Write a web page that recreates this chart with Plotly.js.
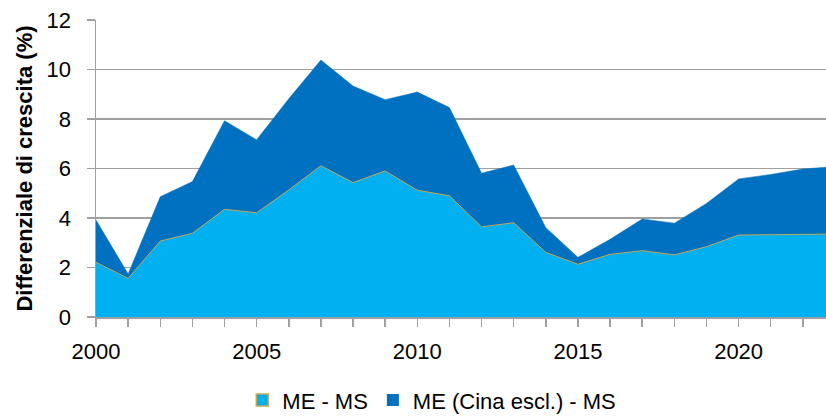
<!DOCTYPE html>
<html>
<head>
<meta charset="utf-8">
<script src="https://cdn.plot.ly/plotly-3.0.1.min.js"></script>
<style>html,body{margin:0;padding:0;background:#fff;}#chart{width:826px;height:419px;}</style>
</head>
<body>
<div id="chart"></div>
<script>
const years = [2000,2001,2002,2003,2004,2005,2006,2007,2008,2009,2010,2011,2012,2013,2014,2015,2016,2017,2018,2019,2020,2021,2022,2023];
const meMs = [2.21,1.56,3.07,3.38,4.35,4.21,5.13,6.11,5.43,5.90,5.12,4.90,3.64,3.81,2.61,2.13,2.53,2.68,2.51,2.84,3.31,3.31,3.34,3.35];
const meExChinaMs = [3.92,1.74,4.86,5.47,7.93,7.16,8.82,10.38,9.33,8.78,9.09,8.46,5.81,6.14,3.61,2.41,3.14,3.96,3.79,4.59,5.58,5.76,5.98,6.08];
const yTicks = [0,2,4,6,8,10,12];
const xTickVals = [2000,2005,2010,2015,2020];
const seriesNames = ['ME - MS', 'ME (Cina escl.) - MS'];

const font = "Liberation Sans, Arial, sans-serif";
const lightBlue = '#00b0f0', darkBlue = '#0070c0', gold = '#c9a74f';

const traces = [
  {
    x: years, y: meExChinaMs, name: seriesNames[1], showlegend: false,
    type: 'scatter', mode: 'lines', fill: 'tozeroy',
    fillcolor: darkBlue, line: {color: darkBlue, width: 0.5}
  },
  {
    x: years, y: meMs, name: seriesNames[0], showlegend: false,
    type: 'scatter', mode: 'lines', fill: 'tozeroy',
    fillcolor: lightBlue, line: {color: gold, width: 1}
  },
  // legend entries (square markers like the original)
  {
    x: [null], y: [null], name: seriesNames[0], type: 'scatter', mode: 'markers',
    marker: {symbol: 'square', size: 12, color: lightBlue, line: {color: gold, width: 1.5}}
  },
  {
    x: [null], y: [null], name: seriesNames[1], type: 'scatter', mode: 'markers',
    marker: {symbol: 'square', size: 12, color: darkBlue, line: {color: darkBlue, width: 0}}
  }
];

const layout = {
  width: 826, height: 419,
  margin: {l: 96, r: 0, t: 20, b: 102, autoexpand: false},
  paper_bgcolor: '#ffffff', plot_bgcolor: '#ffffff',
  font: {family: font, size: 22, color: '#000'},
  showlegend: true,
  legend: {
    orientation: 'h', xref: 'paper', x: 0.46, xanchor: 'center',
    yref: 'container', y: 0.045, yanchor: 'middle',
    font: {family: font, size: 22},
    itemwidth: 30, itemsizing: 'trace'
  },
  xaxis: {
    range: [2000, 2022.72], tickmode: 'array', tickvals: xTickVals,
    ticktext: xTickVals.map(String),
    showgrid: false, zeroline: false,
    showline: true, linecolor: '#a0a0a0', linewidth: 2,
    ticks: 'outside', ticklen: 8, tickcolor: '#a0a0a0', tickwidth: 1.5,
    ticklabelstandoff: 6,
    tickfont: {family: font, size: 22},
    minor: {ticks: 'outside', dtick: 1, tick0: 2000, ticklen: 8, tickcolor: '#a0a0a0', tickwidth: 1.5, showgrid: false}
  },
  yaxis: {
    range: [0, 12], tickmode: 'array', tickvals: yTicks,
    showgrid: true, gridcolor: '#a0a0a0', gridwidth: 1.5,
    zeroline: false, showline: true, linecolor: '#a0a0a0', linewidth: 1.5,
    ticks: 'outside', ticklen: 8, tickcolor: '#a0a0a0', tickwidth: 1.5,
    ticklabelstandoff: 11,
    tickfont: {family: font, size: 22},
    title: {text: 'Differenziale di crescita (%)', font: {family: font, size: 22, weight: 'bold'}, standoff: 8}
  }
};

Plotly.newPlot('chart', traces, layout, {displayModeBar: false, staticPlot: true});
</script>
</body>
</html>
